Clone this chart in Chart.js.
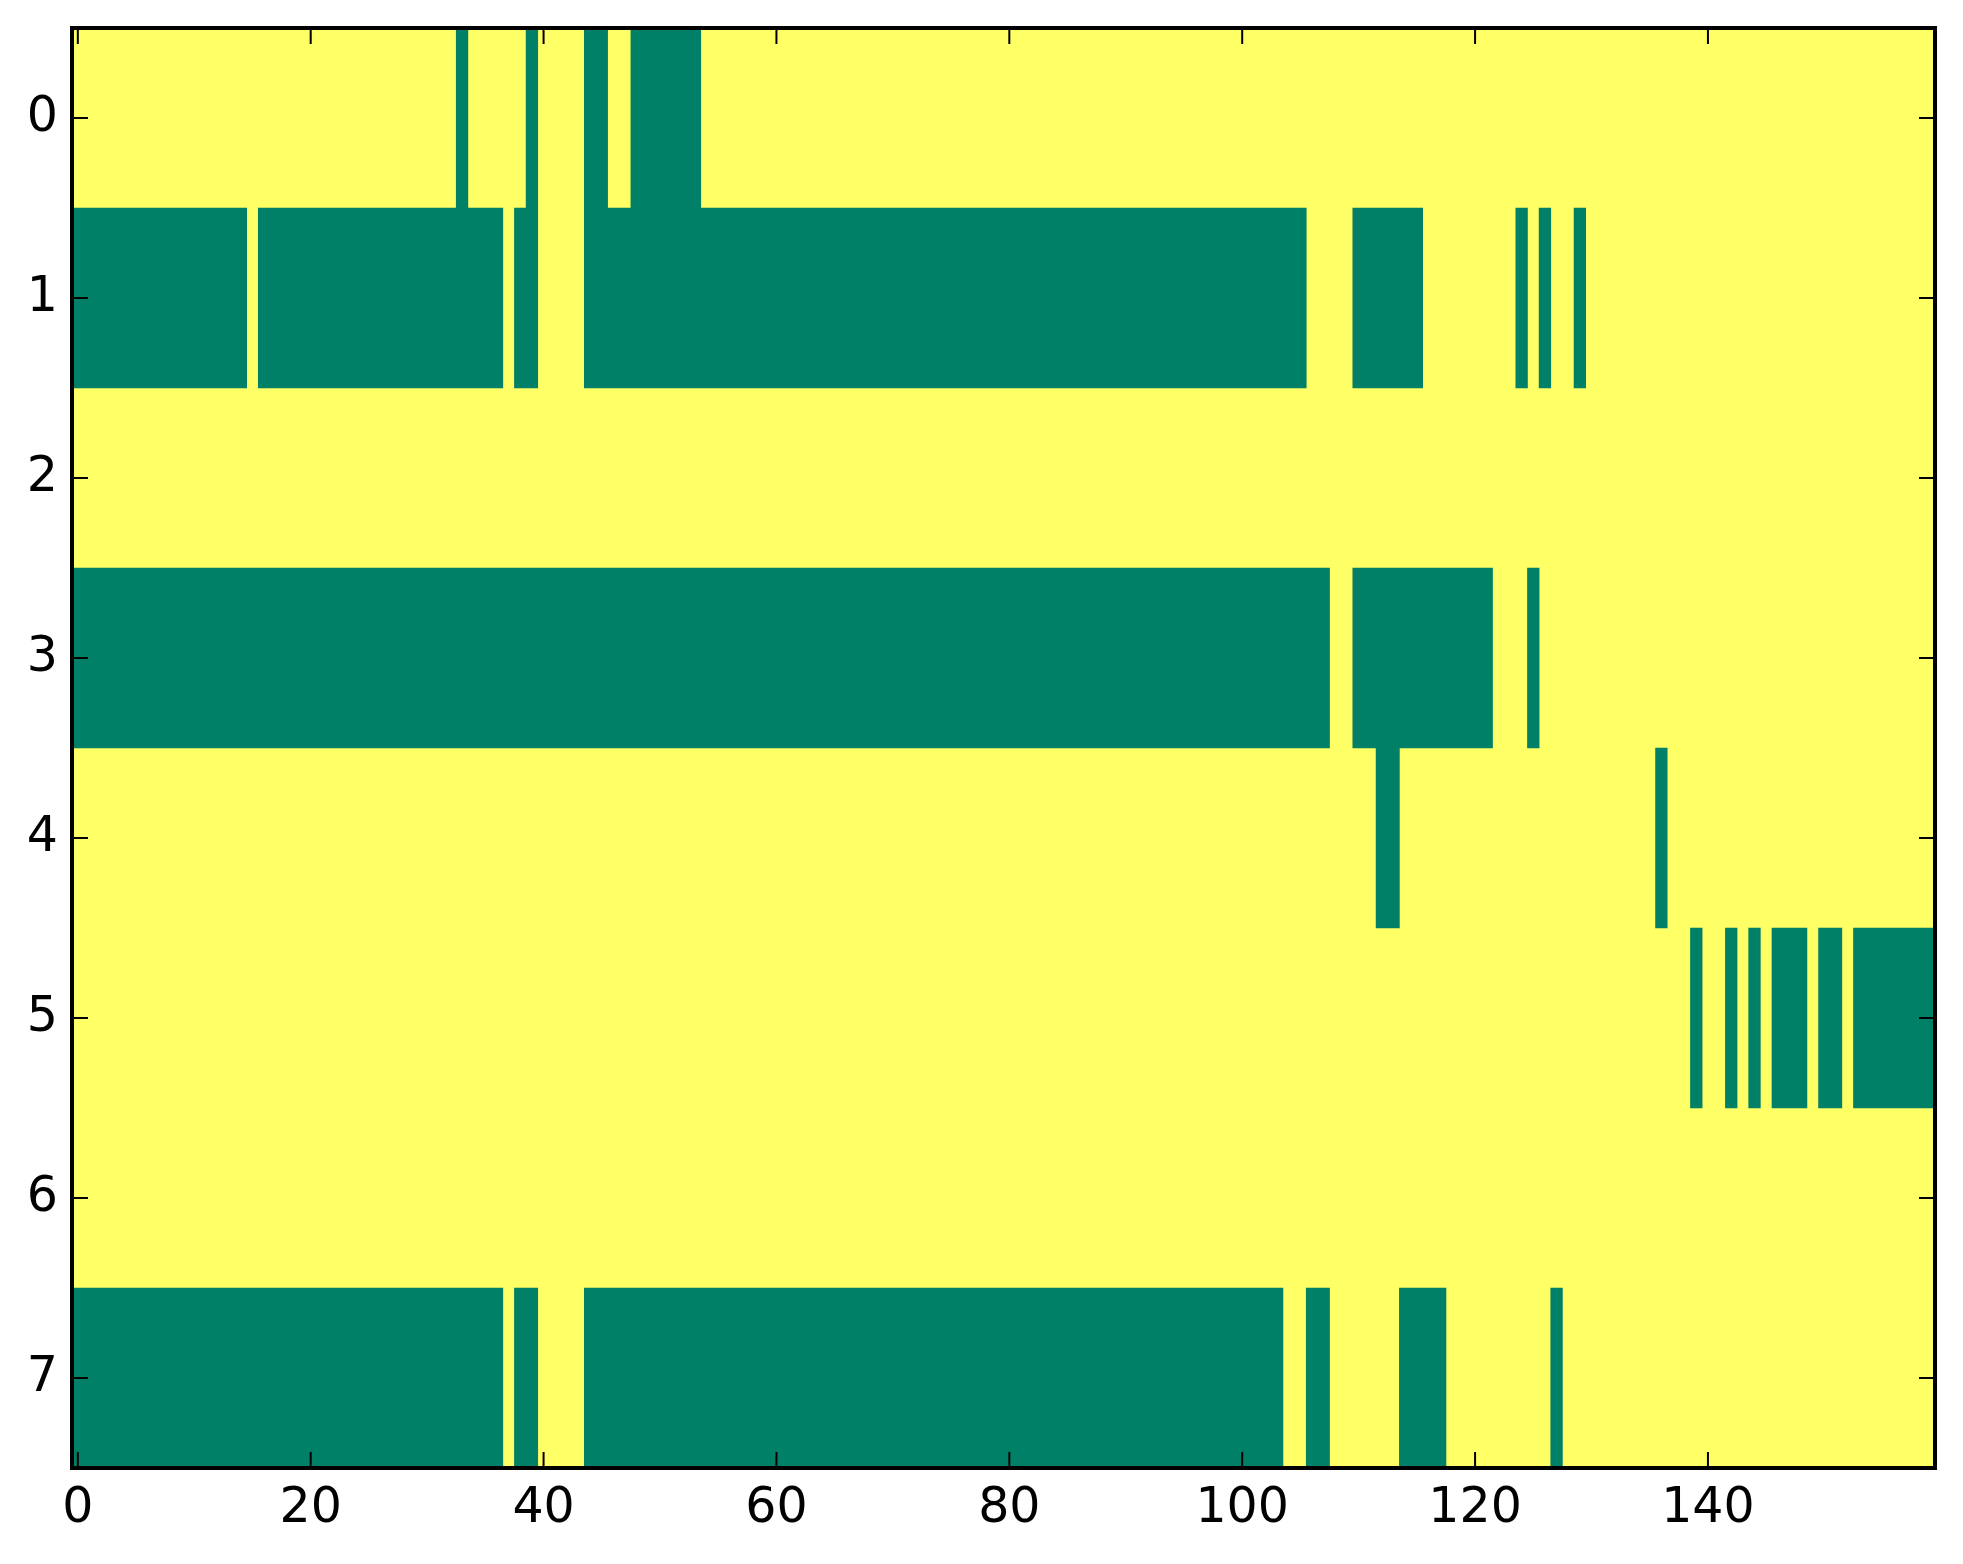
<!DOCTYPE html>
<html>
<head>
<meta charset="utf-8">
<script src="https://cdn.jsdelivr.net/npm/chart.js@4/dist/chart.umd.min.js"></script>
<style>
  html, body { margin: 0; padding: 0; background: #ffffff; }
  #wrap { width: 1963px; height: 1564px; }
</style>
</head>
<body>
<div id="wrap"><canvas id="c" width="1963" height="1564"></canvas></div>
<script>
// ---- data ----
const rowLabels = ['0', '1', '2', '3', '4', '5', '6', '7'];
const nCols = 160;
const xTickValues = [0, 20, 40, 60, 80, 100, 120, 140];
// column ranges (inclusive) whose cell value is 0 (green); all other cells are 1 (yellow)
const zeroRuns0 = [[33, 33], [39, 39], [44, 45], [48, 53]];
const zeroRuns1 = [[0, 14], [16, 36], [38, 39], [44, 105], [110, 115], [124, 124], [126, 126], [129, 129]];
const zeroRuns2 = [];
const zeroRuns3 = [[0, 107], [110, 121], [125, 125]];
const zeroRuns4 = [[112, 113], [136, 136]];
const zeroRuns5 = [[139, 139], [142, 142], [144, 144], [146, 148], [150, 151], [153, 159]];
const zeroRuns6 = [];
const zeroRuns7 = [[0, 36], [38, 39], [44, 103], [106, 107], [114, 117], [127, 127]];

const colorZero = '#008066';
const colorOne = '#ffff66';

const allRuns = [zeroRuns0, zeroRuns1, zeroRuns2, zeroRuns3, zeroRuns4, zeroRuns5, zeroRuns6, zeroRuns7];
const maxRuns = Math.max(...allRuns.map(r => r.length));

const datasets = [{
  label: 'value 1',
  data: rowLabels.map(() => [-0.5, nCols - 0.5]),
  backgroundColor: colorOne,
  borderWidth: 0,
  barPercentage: 1,
  categoryPercentage: 1,
  grouped: false,
  order: 10
}];
for (let k = 0; k < maxRuns; k++) {
  datasets.push({
    label: 'value 0 run ' + k,
    data: allRuns.map(r => r[k] ? [r[k][0] - 0.5, r[k][1] + 0.5] : null),
    backgroundColor: colorZero,
    borderWidth: 0,
    barPercentage: 1,
    categoryPercentage: 1,
    grouped: false,
    order: 0
  });
}

const frame = {
  id: 'frame',
  afterDatasetsDraw(chart) {
    const ctx = chart.ctx;
    const { left, right, top, bottom } = chart.chartArea;
    const xs = chart.scales.x, ys = chart.scales.y;
    ctx.save();
    ctx.strokeStyle = '#000';
    ctx.lineWidth = 2;
    const tl = 16;
    rowLabels.forEach((lab, i) => {
      const y = ys.getPixelForValue(i);
      ctx.beginPath();
      ctx.moveTo(left, y); ctx.lineTo(left + tl, y);
      ctx.moveTo(right, y); ctx.lineTo(right - tl, y);
      ctx.stroke();
    });
    xTickValues.forEach(v => {
      const x = xs.getPixelForValue(v);
      ctx.beginPath();
      ctx.moveTo(x, bottom); ctx.lineTo(x, bottom - tl);
      ctx.moveTo(x, top); ctx.lineTo(x, top + tl);
      ctx.stroke();
    });
    ctx.lineWidth = 4;
    ctx.strokeRect(left, top, right - left, bottom - top);
    ctx.restore();
  }
};

new Chart(document.getElementById('c'), {
  type: 'bar',
  data: { labels: rowLabels, datasets },
  options: {
    indexAxis: 'y',
    responsive: false,
    animation: false,
    devicePixelRatio: 1,
    layout: { padding: { top: 28, right: 28, left: 0, bottom: 0 } },
    plugins: { legend: { display: false }, tooltip: { enabled: false } },
    scales: {
      x: {
        type: 'linear',
        min: -0.5,
        max: nCols - 0.5,
        afterBuildTicks: (scale) => { scale.ticks = xTickValues.map(v => ({ value: v })); },
        afterFit: (scale) => { scale.height = 96; scale.paddingLeft = 0; scale.paddingRight = 0; },
        grid: { display: false, drawTicks: false },
        border: { display: false },
        ticks: {
          color: '#000',
          padding: 12,
          maxRotation: 0,
          autoSkip: false,
          font: { family: 'DejaVu Sans', size: 49 },
          callback: (v) => String(v)
        }
      },
      y: {
        type: 'category',
        afterFit: (scale) => { scale.width = 72; scale.paddingTop = 0; scale.paddingBottom = 0; },
        grid: { display: false, drawTicks: false },
        border: { display: false },
        ticks: {
          color: '#000',
          padding: 14,
          font: { family: 'DejaVu Sans', size: 49 }
        }
      }
    }
  },
  plugins: [frame]
});
</script>
</body>
</html>
